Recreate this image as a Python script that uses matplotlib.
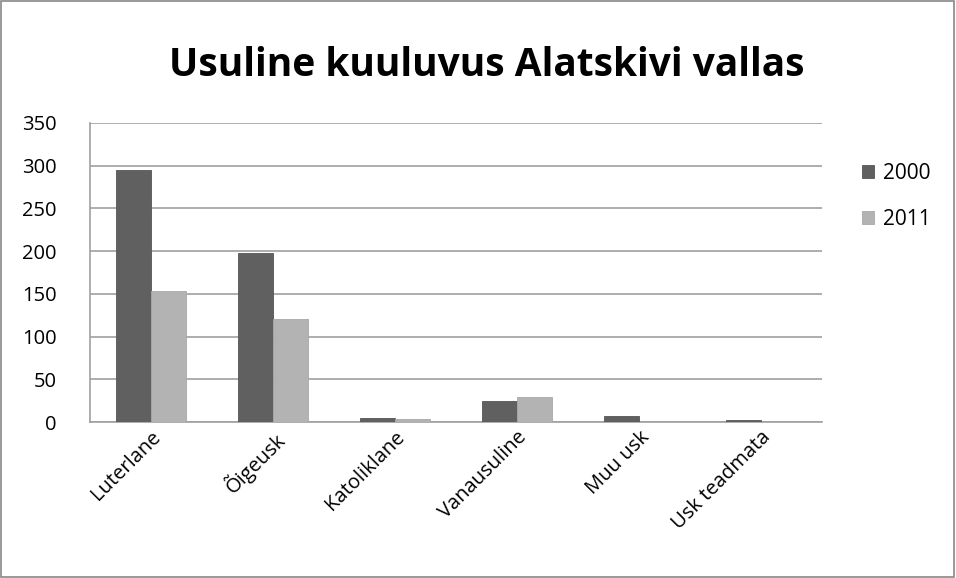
import matplotlib.pyplot as plt
import numpy as np

categories = ['Luterlane', 'Õigeusk', 'Katoliklane', 'Vanausuline', 'Muu usk', 'Usk teadmata']
years = ['2000', '2011']
values_2000 = [295, 198, 5, 25, 7, 2]
values_2011 = [153, 120, 3, 29, 0, 0]
yticks = [0, 50, 100, 150, 200, 250, 300, 350]

plt.rcParams['font.family'] = ['Open Sans', 'DejaVu Sans']

fig = plt.figure(figsize=(9.56, 5.78), dpi=100)
ax = fig.add_axes([90 / 956, 1 - 422 / 578, 732 / 956, 299 / 578])

x = np.arange(len(categories))
w = 1 / 3.5
ax.bar(x - w / 2, values_2000, w, color='#606060', edgecolor='#555555', linewidth=0.6, label=years[0], zorder=3)
ax.bar(x + w / 2, values_2011, w, color='#b3b3b3', edgecolor='#a8a8a8', linewidth=0.6, label=years[1], zorder=3)

ax.set_xlim(-0.5, len(categories) - 0.5)
ax.set_ylim(0, 350)
ax.set_yticks(yticks)
ax.yaxis.grid(True, color='#a0a0a0', linewidth=1.2, zorder=0)
ax.tick_params(axis='y', length=0, labelsize=14.5, pad=24)
ax.tick_params(axis='x', length=0, labelsize=14.5, pad=4)
ax.set_xticks(x)
ax.set_xticklabels(categories, rotation=45, ha='right', rotation_mode='anchor')
for s in ['top', 'right']:
    ax.spines[s].set_visible(False)
ax.spines['left'].set_color('#a0a0a0')
ax.spines['bottom'].set_color('#a0a0a0')
ax.spines['left'].set_linewidth(1.2)
ax.spines['bottom'].set_linewidth(1.2)

fig.text(487 / 956, 1 - 65 / 578, 'Usuline kuuluvus Alatskivi vallas', ha='center', va='center',
         fontsize=28, fontweight='bold')

leg = fig.legend(loc='upper left', bbox_to_anchor=(843 / 956, 1 - 144 / 578), frameon=False,
                 fontsize=15, handlelength=0.6, handleheight=0.6, handletextpad=0.4, labelspacing=1.2)

fig.patches.append(plt.Rectangle((0.001, 0.001), 0.997, 0.997, transform=fig.transFigure,
                                 fill=False, edgecolor='#888888', linewidth=1.2))

fig.savefig('out.png', dpi=100)
